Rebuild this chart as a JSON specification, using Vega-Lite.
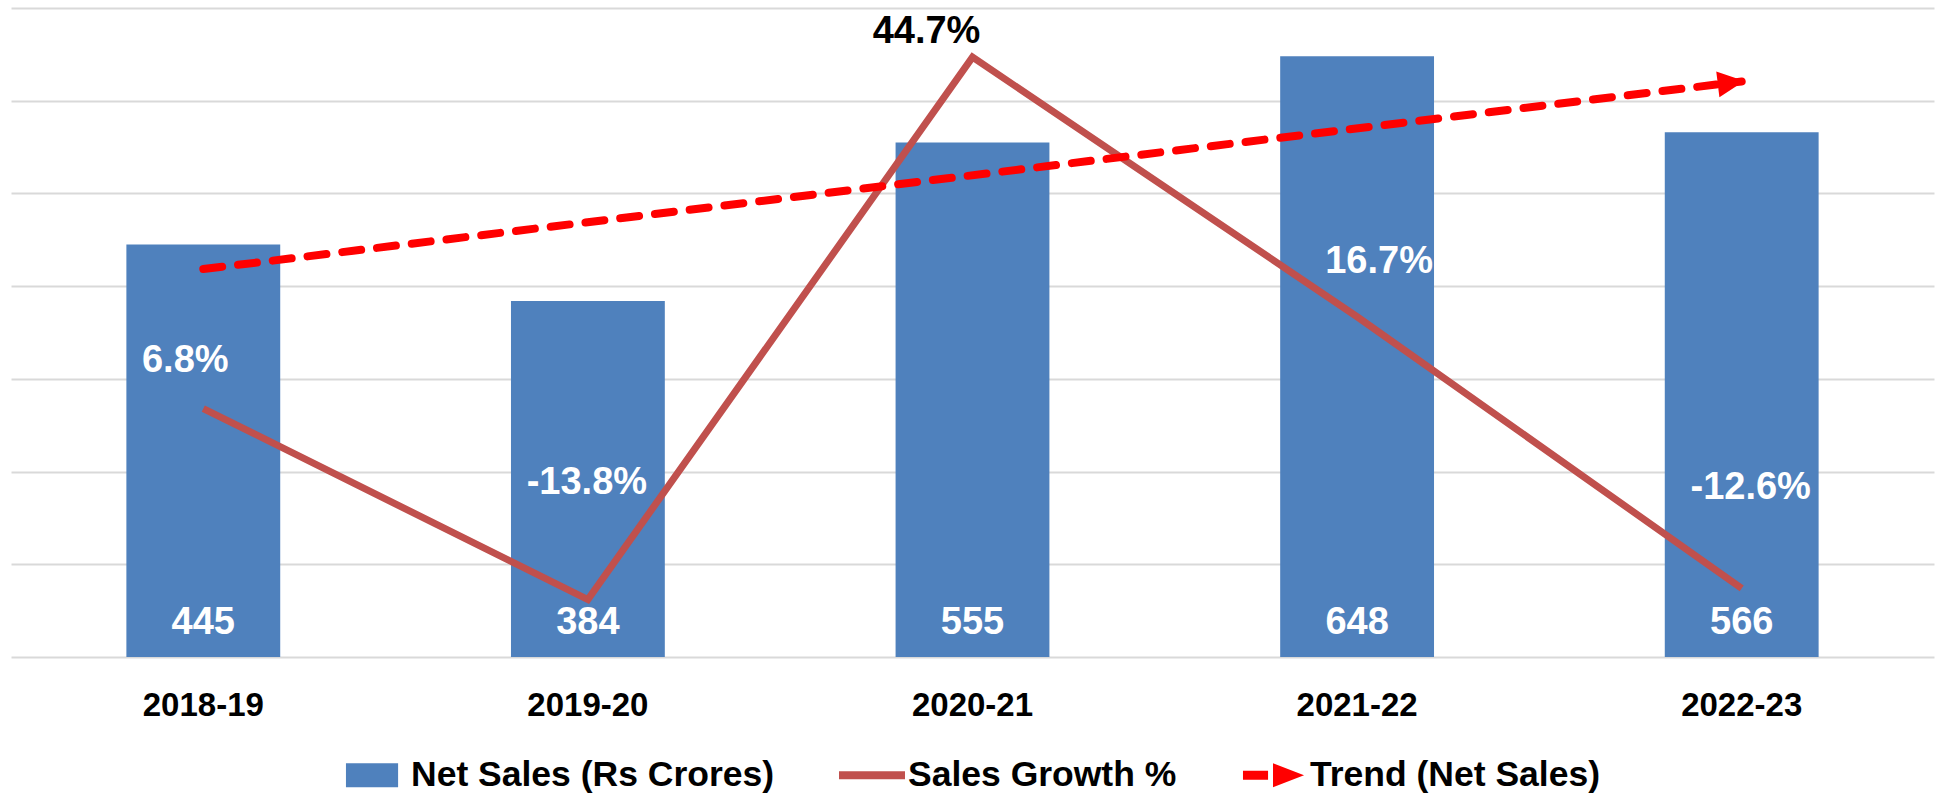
{
  "$schema": "https://vega.github.io/schema/vega-lite/v6.json",
  "width": 1923,
  "height": 649,
  "autosize": {"type": "none"},
  "padding": {"left": 11, "top": 8, "right": 2, "bottom": 139},
  "background": "white",
  "config": {
    "view": {"stroke": null},
    "font": "Liberation Sans",
    "locale": {"number": {"decimal": ".", "thousands": ",", "grouping": [3], "currency": ["", ""], "minus": "-"}}
  },
  "data": {
    "values": [
      {"Year": "2018-19", "Sales": 445, "Growth": 0.068},
      {"Year": "2019-20", "Sales": 384, "Growth": -0.138},
      {"Year": "2020-21", "Sales": 555, "Growth": 0.447},
      {"Year": "2021-22", "Sales": 648, "Growth": 0.167},
      {"Year": "2022-23", "Sales": 566, "Growth": -0.126}
    ]
  },
  "encoding": {
    "x": {
      "field": "Year",
      "type": "nominal",
      "sort": null,
      "scale": {"domain": ["2018-19", "2019-20", "2020-21", "2021-22", "2022-23"], "paddingInner": 0.6, "paddingOuter": 0.3},
      "axis": {
        "title": null,
        "labelAngle": 0,
        "labelFont": "Liberation Sans",
        "labelFontSize": 33,
        "labelFontWeight": "bold",
        "labelColor": "#000000",
        "labelPadding": 48,
        "labelBaseline": "middle",
        "ticks": false,
        "tickSize": 0,
        "domain": false,
        "grid": false
      }
    }
  },
  "layer": [
    {
      "layer": [
        {
          "mark": {"type": "bar"},
          "encoding": {
            "y": {
              "field": "Sales",
              "type": "quantitative",
              "scale": {"domain": [0, 700], "nice": false},
              "axis": {
                "title": null,
                "labels": false,
                "ticks": false,
                "domain": false,
                "grid": true,
                "gridColor": "#D9D9D9",
                "gridWidth": 2,
                "values": [0, 100, 200, 300, 400, 500, 600, 700]
              }
            },
            "color": {
              "datum": "Net Sales (Rs Crores)",
              "type": "nominal",
              "scale": {
                "domain": ["Net Sales (Rs Crores)", "Sales Growth %", "Trend (Net Sales)"],
                "range": ["#4F81BD", "#C0504D", "#FF0000"]
              },
              "legend": {
                "title": null,
                "orient": "none",
                "legendX": 331,
                "legendY": 734,
                "direction": "horizontal",
                "padding": 0,
                "columnPadding": 64,
                "labelOffset": 3,
                "labelFont": "Liberation Sans",
                "labelFontSize": 35.5,
                "labelFontWeight": "bold",
                "labelColor": "#000000",
                "labelLimit": 0,
                "symbolSize": 4356,
                "encode": {
                  "symbols": {
                    "update": {
                      "shape": {"signal": "datum.value === 'Net Sales (Rs Crores)' ? 'M-0.88,-0.36H0.7V0.36H-0.88Z' : datum.value === 'Sales Growth %' ? 'M-1,-0.12H1V0.12H-1Z' : 'M-0.94,-0.14H-0.18V0.14H-0.94Z M-0.03,-0.36L0.91,0L-0.03,0.36Z'"},
                      "fill": {"signal": "datum.value === 'Net Sales (Rs Crores)' ? '#4F81BD' : datum.value === 'Sales Growth %' ? '#C0504D' : '#FF0000'"},
                      "stroke": {"value": "transparent"},
                      "strokeWidth": {"value": 0},
                      "opacity": {"value": 1},
                      "size": {"value": 4356}
                    }
                  }
                }
              }
            }
          }
        },
        {
          "mark": {"type": "text", "color": "#FFFFFF", "fontSize": 38, "fontWeight": "bold", "baseline": "middle", "align": "center", "dy": -34},
          "encoding": {
            "y": {"datum": 0, "type": "quantitative"},
            "text": {"field": "Sales", "type": "quantitative"}
          }
        }
      ]
    },
    {
      "mark": {"type": "line", "strokeWidth": 7, "strokeJoin": "miter"},
      "encoding": {
        "y": {"field": "Growth", "type": "quantitative", "scale": {"domain": [-0.2, 0.5], "nice": false, "zero": false}, "axis": null},
        "color": {"datum": "Sales Growth %", "type": "nominal"}
      }
    },
    {
      "data": {"values": [{"Year": "2018-19", "Trend": 418.4}, {"Year": "2022-23", "Trend": 620.8}]},
      "encoding": {
        "y": {"field": "Trend", "type": "quantitative", "scale": {"domain": [0, 700], "nice": false}, "axis": null}
      },
      "layer": [
        {
          "mark": {"type": "line", "strokeWidth": 8, "strokeDash": [19, 16], "strokeCap": "round"},
          "encoding": {"color": {"datum": "Trend (Net Sales)", "type": "nominal"}}
        },
        {
          "transform": [{"filter": "datum.Year === '2022-23'"}],
          "mark": {"type": "point", "shape": "M-1.85,-1L0.2,0L-1.85,1Z", "size": 676, "filled": true, "color": "#FF0000", "opacity": 1, "angle": -7, "strokeWidth": 0}
        }
      ]
    },
    {
      "encoding": {
        "y": {"field": "Growth", "type": "quantitative", "scale": {"domain": [-0.2, 0.5], "nice": false, "zero": false}, "axis": null},
        "text": {"field": "Growth", "type": "quantitative", "format": ".1%"}
      },
      "layer": [
        {
          "transform": [{"filter": "datum.Year === '2018-19'"}],
          "mark": {"type": "text", "color": "#FFFFFF", "fontSize": 38, "fontWeight": "bold", "baseline": "middle", "align": "center", "dx": -18, "dy": -48}
        },
        {
          "transform": [{"filter": "datum.Year === '2019-20'"}],
          "mark": {"type": "text", "color": "#FFFFFF", "fontSize": 38, "fontWeight": "bold", "baseline": "middle", "align": "center", "dx": -1, "dy": -117}
        },
        {
          "transform": [{"filter": "datum.Year === '2020-21'"}],
          "mark": {"type": "text", "color": "#000000", "fontSize": 38, "fontWeight": "bold", "baseline": "middle", "align": "center", "dx": -46, "dy": -25}
        },
        {
          "transform": [{"filter": "datum.Year === '2021-22'"}],
          "mark": {"type": "text", "color": "#FFFFFF", "fontSize": 38, "fontWeight": "bold", "baseline": "middle", "align": "center", "dx": 22, "dy": -55}
        },
        {
          "transform": [{"filter": "datum.Year === '2022-23'"}],
          "mark": {"type": "text", "color": "#FFFFFF", "fontSize": 38, "fontWeight": "bold", "baseline": "middle", "align": "center", "dx": 9, "dy": -100}
        }
      ]
    }
  ],
  "resolve": {"scale": {"y": "independent"}}
}
